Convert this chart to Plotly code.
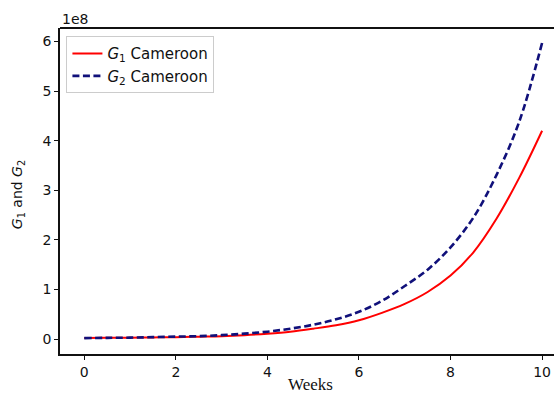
import plotly.graph_objects as go

weeks = [0, 0.5, 1, 1.5, 2, 2.5, 3, 3.5, 4, 4.5, 5, 5.5, 6, 6.5, 7, 7.5, 8, 8.5, 9, 9.5, 10]
g1 = [0.02, 0.025, 0.03, 0.035, 0.04, 0.05, 0.06, 0.08, 0.11, 0.15, 0.21, 0.28, 0.38, 0.53, 0.71, 0.95, 1.28, 1.75, 2.42, 3.25, 4.20]
g2 = [0.02, 0.025, 0.03, 0.04, 0.05, 0.06, 0.08, 0.11, 0.15, 0.21, 0.29, 0.40, 0.55, 0.77, 1.07, 1.40, 1.85, 2.45, 3.30, 4.38, 5.97]
x_ticks = [0, 2, 4, 6, 8, 10]
y_ticks = [0, 1, 2, 3, 4, 5, 6]

fig = go.Figure()
fig.add_trace(go.Scatter(x=weeks, y=g1, mode="lines", line=dict(color="red", width=2, shape="spline"),
                         name="<i>G</i><sub>1</sub> Cameroon"))
fig.add_trace(go.Scatter(x=weeks, y=g2, mode="lines", line=dict(color="#10107a", width=2.6, dash="7px,3.5px", shape="spline"),
                         name="<i>G</i><sub>2</sub> Cameroon"))

tickfont = dict(family="DejaVu Sans", size=14, color="#111")
fig.update_layout(
    width=554, height=394,
    margin=dict(l=60, r=0, t=28, b=40),
    paper_bgcolor="white", plot_bgcolor="white",
    showlegend=True,
    legend=dict(x=0.013, y=0.975, xanchor="left", yanchor="top",
                bgcolor="rgba(255,255,255,0.9)", bordercolor="#cccccc", borderwidth=1,
                font=dict(family="DejaVu Sans", size=15, color="#111"),
                tracegroupgap=4),
    xaxis=dict(range=[-0.53, 10.26], tickvals=x_ticks, ticks="outside", ticklen=4, tickwidth=1.2,
               tickcolor="#111", showline=True, linecolor="#111", linewidth=1.8,
               showgrid=False, zeroline=False, tickfont=tickfont),
    yaxis=dict(range=[-0.30, 6.27], tickvals=y_ticks, ticks="outside", ticklen=4, tickwidth=1.2,
               tickcolor="#111", showline=True, linecolor="#111", linewidth=1.8,
               showgrid=False, zeroline=False, tickfont=tickfont),
    shapes=[dict(type="line", xref="paper", yref="paper", x0=0, x1=1, y0=1, y1=1,
                 line=dict(color="#111", width=1.8))],
    annotations=[
        dict(text="1e8", xref="paper", yref="paper", x=0, y=1, xanchor="left", yanchor="bottom",
             showarrow=False, font=dict(family="DejaVu Sans", size=14, color="#111"), yshift=-1),
        dict(text="Weeks", xref="x", yref="paper", x=4.95, y=0, xanchor="center", yanchor="top",
             showarrow=False, yshift=-19, font=dict(family="Liberation Serif", size=17, color="#111")),
        dict(text="<i>G</i><sub>1</sub> and <i>G</i><sub>2</sub>", xref="paper", yref="y", x=0, y=2.9,
             xanchor="center", yanchor="middle", textangle=-90, showarrow=False, xshift=-42,
             font=dict(family="DejaVu Sans", size=14, color="#111")),
    ],
)

fig.write_html("out.html")
